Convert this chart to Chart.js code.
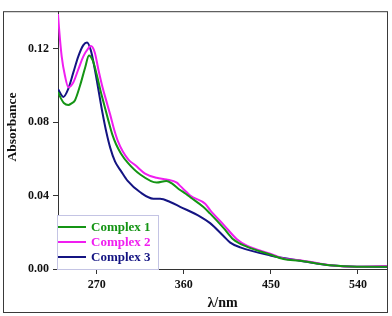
<!DOCTYPE html>
<html>
<head>
<meta charset="utf-8">
<script src="https://cdn.jsdelivr.net/npm/chart.js@4"></script>
<style>
    body { margin: 0; background: #fff; }
    canvas { display: block; }
</style>
</head>
<body>
<canvas id="myChart" width="392" height="316"></canvas>
<script>
const seriesNames = ['Complex 1', 'Complex 2', 'Complex 3'];
const seriesColors = ['#149414', '#f01ef0', '#141482'];

const xTicks = [270, 360, 450, 540];
const yTicks = [0, 0.04, 0.08, 0.12];

// Complex 1
const nm1 = [230, 233, 236, 240.7, 244, 247.6, 252.8, 258, 262, 266, 270, 274, 278, 282, 286, 290, 295, 302, 315, 332, 342, 348, 355, 362, 367, 380, 387, 401, 411, 425, 449, 463, 480, 511, 539, 570];
const abs1 = [0.0965, 0.093, 0.0905, 0.0894, 0.0903, 0.092, 0.1, 0.1097, 0.1164, 0.1135, 0.106, 0.097, 0.089, 0.081, 0.0735, 0.068, 0.063, 0.058, 0.0515, 0.0471, 0.048, 0.0465, 0.0435, 0.041, 0.039, 0.0339, 0.0303, 0.0224, 0.0162, 0.0122, 0.0079, 0.0055, 0.0045, 0.002, 0.0012, 0.0012];

// Complex 2
const nm2 = [230, 231, 233.8, 237.2, 240.7, 245.8, 251, 256.2, 261.3, 264, 268, 272, 276, 280, 284, 288, 292, 297, 303, 310, 320, 332, 342, 352.8, 356.2, 363.1, 366.6, 382.1, 387.2, 401, 414.9, 425.2, 449.3, 463.1, 480.3, 511.4, 539, 570];
const abs2 = [0.139, 0.1317, 0.1159, 0.1053, 0.0991, 0.1017, 0.1088, 0.1159, 0.1203, 0.1215, 0.118, 0.108, 0.099, 0.0915, 0.084, 0.076, 0.0695, 0.064, 0.0595, 0.0565, 0.052, 0.0497, 0.0488, 0.0471, 0.0453, 0.0418, 0.04, 0.0356, 0.0321, 0.0242, 0.0162, 0.0127, 0.0083, 0.0057, 0.0048, 0.0021, 0.0012, 0.0016];

// Complex 3
const nm3 = [230, 235.5, 240.7, 245.8, 251, 256.2, 260, 264, 268, 272, 276, 280, 284, 289, 295, 302, 315, 328.6, 335.5, 345.9, 356.2, 376.9, 387.2, 401, 408, 418.3, 449.3, 480, 511, 539, 570];
const abs3 = [0.098, 0.0938, 0.0983, 0.107, 0.1159, 0.122, 0.1234, 0.119, 0.109, 0.097, 0.085, 0.0745, 0.066, 0.0585, 0.0535, 0.048, 0.0418, 0.0383, 0.0383, 0.0365, 0.0339, 0.0286, 0.025, 0.018, 0.0144, 0.0118, 0.0074, 0.0045, 0.002, 0.0012, 0.0012];

const toPoints = (xs, ys) => xs.map((x, i) => ({x: x, y: ys[i]}));
const serif = "'Liberation Serif', 'Times New Roman', serif";

const frameAndLegend = {
    id: 'frameAndLegend',
    afterDatasetsDraw(chart) {
        const ctx = chart.ctx;
        const area = chart.chartArea;
        ctx.save();

        // legend box in the lower left corner of the plot
        const bx = area.left - 1, by = 215, bw = 101, bh = area.bottom - by;
        ctx.fillStyle = '#fff';
        ctx.fillRect(bx, by, bw, bh);
        ctx.strokeStyle = '#c4c4e4';
        ctx.lineWidth = 1;
        ctx.strokeRect(bx + 0.5, by + 0.5, bw, bh);

        ctx.font = 'bold 13px ' + serif;
        ctx.textBaseline = 'middle';
        const rows = [227, 242, 257];
        chart.data.datasets.forEach((ds, i) => {
            ctx.strokeStyle = ds.borderColor;
            ctx.lineWidth = 2;
            ctx.beginPath();
            ctx.moveTo(area.left, rows[i]);
            ctx.lineTo(area.left + 28, rows[i]);
            ctx.stroke();
            ctx.fillStyle = ds.borderColor;
            ctx.fillText(ds.label, area.left + 33, rows[i] + 1);
        });

        // y axis title, sits a bit above the middle in the original
        ctx.fillStyle = '#111';
        ctx.font = 'bold 13.5px ' + serif;
        ctx.textAlign = 'center';
        ctx.translate(13, 127);
        ctx.rotate(-Math.PI / 2);
        ctx.fillText('Absorbance', 0, 0);
        ctx.setTransform(1, 0, 0, 1, 0, 0);

        // outer frame of the figure
        ctx.strokeStyle = '#3a3a3a';
        ctx.lineWidth = 1;
        ctx.strokeRect(3.5, area.top + 0.5, area.right - 3, 312 - area.top);
        ctx.restore();
    }
};

const config = {
    type: 'line',
    data: {
        datasets: [0, 1, 2].map(i => ({
            label: seriesNames[i],
            data: toPoints([nm1, nm2, nm3][i], [abs1, abs2, abs3][i]),
            borderColor: seriesColors[i],
            borderWidth: 2,
            pointRadius: 0,
            fill: false,
            cubicInterpolationMode: 'monotone'
        }))
    },
    options: {
        responsive: false,
        animation: false,
        layout: {padding: {left: 3, top: 4, right: 5, bottom: 4}},
        plugins: {
            legend: {display: false},
            tooltip: {enabled: false}
        },
        scales: {
            x: {
                type: 'linear',
                min: 230,
                max: 570,
                afterBuildTicks: (scale) => { scale.ticks = xTicks.map(v => ({value: v})); },
                afterFit: (scale) => { scale.height = 43; },
                grid: {drawOnChartArea: false, tickLength: 5, color: '#333'},
                border: {color: '#333', width: 1},
                ticks: {
                    color: '#111',
                    padding: 4,
                    maxRotation: 0,
                    font: {family: serif, size: 12, weight: 'bold'}
                },
                title: {
                    display: true,
                    text: 'λ/nm',
                    color: '#111',
                    padding: {top: 0, bottom: 0},
                    font: {family: serif, size: 14, weight: 'bold'}
                }
            },
            y: {
                min: 0,
                max: 0.1405,
                afterBuildTicks: (scale) => { scale.ticks = yTicks.map(v => ({value: v})); },
                afterFit: (scale) => { scale.width = 55; },
                grid: {drawOnChartArea: false, tickLength: 5, color: '#333'},
                border: {color: '#333', width: 1},
                ticks: {
                    color: '#111',
                    padding: 4,
                    font: {family: serif, size: 12, weight: 'bold'},
                    callback: (v) => v.toFixed(2)
                }
            }
        }
    },
    plugins: [frameAndLegend]
};

var myChart = new Chart(document.getElementById('myChart'), config);
</script>
</body>
</html>
